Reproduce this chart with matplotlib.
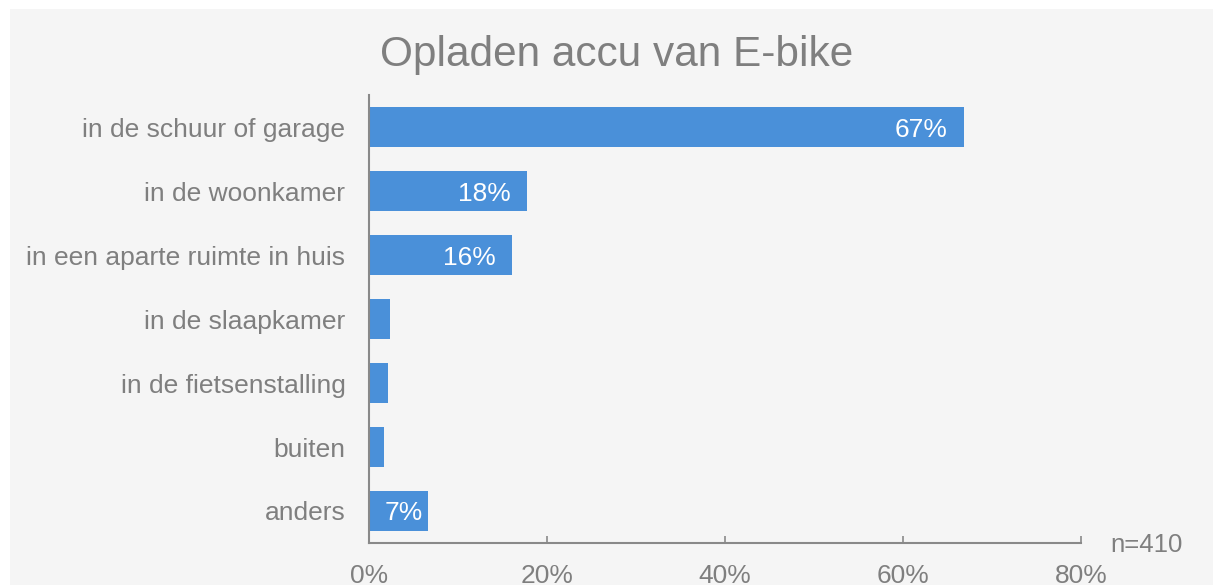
import matplotlib
matplotlib.use("Agg")
import matplotlib.pyplot as plt
from matplotlib.patches import Rectangle

plt.rcParams['font.family'] = ['Liberation Sans', 'DejaVu Sans']

title = "Opladen accu van E-bike"
categories = ["in de schuur of garage", "in de woonkamer", "in een aparte ruimte in huis",
              "in de slaapkamer", "in de fietsenstalling", "buiten", "anders"]
values = [66.9, 17.8, 16.1, 2.4, 2.1, 1.7, 6.6]
labels = ["67%", "18%", "16%", "", "", "", "7%"]
xticks = [0, 20, 40, 60, 80]
xticklabels = ["0%", "20%", "40%", "60%", "80%"]
note = "n=410"

W, H = 1220, 585
fig = plt.figure(figsize=(W / 100, H / 100), dpi=100)
fig.patch.set_facecolor("white")
fig.patches.append(Rectangle((10 / W, 0), 1203 / W, 1 - 9 / H, transform=fig.transFigure,
                             facecolor="#f5f5f5", edgecolor="none", zorder=-10))

ax = fig.add_axes([369 / W, 1 - 543 / H, (1081 - 369) / W, (543 - 95) / H])
ax.set_facecolor("none")

grey = "#7f7f7f"
bar_color = "#4a90d9"
ypos = list(range(len(categories)))
ax.barh(ypos, values, height=0.61, color=bar_color, edgecolor="none")
ax.set_ylim(len(categories) - 0.5, -0.5)
ax.set_xlim(0, 80)

for y, v, lab in zip(ypos, values, labels):
    if not lab:
        continue
    if v >= 10:
        ax.annotate(lab, (v, y), xytext=(-12, 0), textcoords="offset points",
                    ha="right", va="center_baseline", color="white", fontsize=19)
    else:
        ax.annotate(lab, (v / 2, y), xytext=(4, 0), textcoords="offset points",
                    ha="center", va="center_baseline", color="white", fontsize=19)

ax.set_yticks(ypos)
ax.set_yticklabels(categories, fontsize=19, color=grey)
for t in ax.get_yticklabels():
    t.set_verticalalignment("center_baseline")
ax.tick_params(axis="y", length=0, pad=17)
ax.set_xticks(xticks)
ax.set_xticklabels(xticklabels, fontsize=19, color=grey)
ax.tick_params(axis="x", direction="in", length=5, color="#898989", width=1.2, pad=15)

for s in ["top", "right"]:
    ax.spines[s].set_visible(False)
for s in ["left", "bottom"]:
    ax.spines[s].set_color("#898989")
    ax.spines[s].set_linewidth(1.5)

fig.text(617 / W, 1 - 55 / H, title, ha="center", va="center", fontsize=30.5, color=grey)
fig.text(1110 / W, 1 - 545 / H, note, ha="left", va="center", fontsize=18.5, color=grey)

fig.savefig("out.png", dpi=100, facecolor=fig.get_facecolor())
